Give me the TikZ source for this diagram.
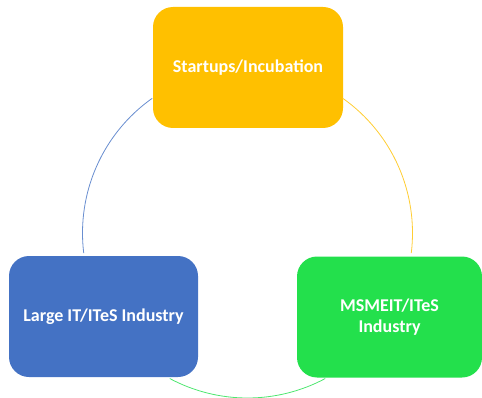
\documentclass[tikz,border=0pt]{standalone}
\usepackage{fontspec}
\setmainfont{Carlito}
\definecolor{cOrange}{HTML}{FFC000}
\definecolor{cBlue}{HTML}{4472C4}
\definecolor{cGreen}{HTML}{23E04C}
\begin{document}
\begin{tikzpicture}[x=1pt,y=1pt,
  box/.style={rounded corners=20pt, minimum width=#1, minimum height=121pt, inner sep=0pt, text=white, font=\bfseries\fontsize{18}{21}\selectfont, align=center},
  conn/.style={line width=0.8pt}]
\useasboundingbox (0,0) rectangle (482,397);
\node[box=190pt, fill=cOrange] (top) at (248,329.5) {Startups/Incubation};
\node[box=189pt, fill=cBlue] (left) at (103.5,80.5) {Large IT/ITeS Industry};
\node[box=185pt, fill=cGreen] (right) at (389.5,80) {MSMEIT/ITeS\\Industry};
\coordinate (c) at (247.5,164);
\draw[conn, cBlue!80] ([shift={(125.3:165)}]c) arc[start angle=125.3, end angle=187, radius=165];
\draw[conn, cOrange!80] ([shift={(54.7:165)}]c) arc[start angle=54.7, end angle=-7, radius=165];
\draw[conn, cGreen!80] ([shift={(241.9:165)}]c) arc[start angle=241.9, end angle=298.1, radius=165];
\end{tikzpicture}
\end{document}
